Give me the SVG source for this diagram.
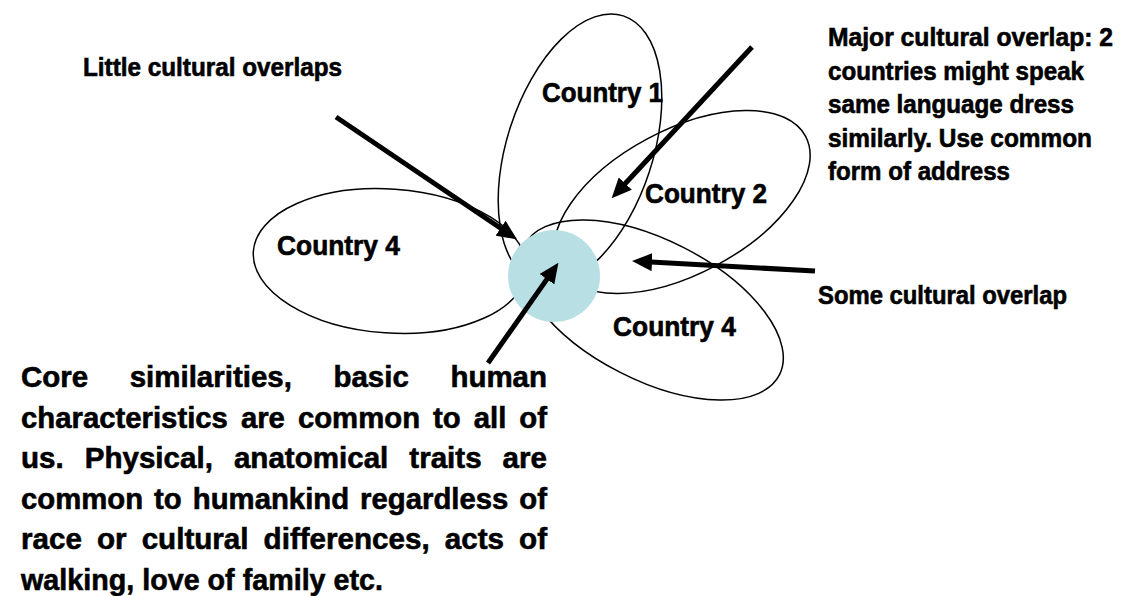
<svg xmlns="http://www.w3.org/2000/svg" width="1122" height="596" viewBox="0 0 1122 596">
  <style>
    .ell { fill: none; stroke: #000; stroke-width: 1.5; }
    .core { fill: #B8DFE3; stroke: none; }
    .lbl { font-family: "Liberation Sans", Arial, sans-serif; font-weight: bold; fill: #000; stroke: #000; stroke-width: 0.6; }
    .country { font-size: 27px; }
    .note { font-size: 25px; }
    .para { font-size: 30px; }
    .arr { stroke: #000; stroke-width: 5; fill: none; }
  </style>
  <defs>
    <marker id="ah" viewBox="0 0 20 18" refX="1" refY="9" markerWidth="20" markerHeight="18" markerUnits="userSpaceOnUse" orient="auto">
      <path d="M0,0 L20,9 L0,18 Z" fill="#000"/>
    </marker>
  </defs>
  <rect width="1122" height="596" fill="#fff"/>

  <g id="country4-left">
    <ellipse class="ell" cx="390" cy="261" rx="137" ry="72" transform="rotate(4 390 261)"/>
    <text class="lbl country" x="277" y="255" textLength="123" lengthAdjust="spacingAndGlyphs">Country 4</text>
  </g>
  <g id="country1">
    <ellipse class="ell" cx="580" cy="149" rx="73" ry="140" transform="rotate(18 580 149)"/>
    <text class="lbl country" x="542" y="102" textLength="121" lengthAdjust="spacingAndGlyphs">Country 1</text>
  </g>
  <g id="country2">
    <ellipse class="ell" cx="682" cy="202" rx="140" ry="72" transform="rotate(-28 682 202)"/>
    <text class="lbl country" x="645" y="203" textLength="122" lengthAdjust="spacingAndGlyphs">Country 2</text>
  </g>
  <g id="country4-right">
    <ellipse class="ell" cx="652" cy="310" rx="143" ry="70" transform="rotate(27 652 310)"/>
    <text class="lbl country" x="613" y="336" textLength="123" lengthAdjust="spacingAndGlyphs">Country 4</text>
  </g>
  <g id="core">
    <circle class="core" cx="554" cy="276" r="46"/>
  </g>

  <g id="connectors">
    <line class="arr" x1="336" y1="117" x2="501.4" y2="228.8" marker-end="url(#ah)"/>
    <line class="arr" x1="752" y1="47" x2="624.6" y2="184.3" marker-end="url(#ah)"/>
    <line class="arr" x1="815" y1="271" x2="651" y2="262.1" marker-end="url(#ah)"/>
    <line class="arr" x1="488" y1="363" x2="547.5" y2="278.4" marker-end="url(#ah)"/>
  </g>

  <g id="label-little">
    <text class="lbl note" x="83" y="76" textLength="259" lengthAdjust="spacingAndGlyphs">Little cultural overlaps</text>
  </g>
  <g id="label-major">
    <text class="lbl note" x="828" y="46" textLength="285" lengthAdjust="spacingAndGlyphs">Major cultural overlap: 2</text>
    <text class="lbl note" x="828" y="80" textLength="256" lengthAdjust="spacingAndGlyphs">countries might speak</text>
    <text class="lbl note" x="828" y="113" textLength="246" lengthAdjust="spacingAndGlyphs">same language dress</text>
    <text class="lbl note" x="828" y="147" textLength="264" lengthAdjust="spacingAndGlyphs">similarly. Use common</text>
    <text class="lbl note" x="828" y="180" textLength="182" lengthAdjust="spacingAndGlyphs">form of address</text>
  </g>
  <g id="label-some">
    <text class="lbl note" x="818" y="304" textLength="249" lengthAdjust="spacingAndGlyphs">Some cultural overlap</text>
  </g>
  <g id="label-core">
    <text class="lbl para" x="21" y="387" word-spacing="34" textLength="526" lengthAdjust="spacingAndGlyphs">Core similarities, basic human</text>
    <text class="lbl para" x="21" y="427.5" word-spacing="5" textLength="526" lengthAdjust="spacingAndGlyphs">characteristics are common to all of</text>
    <text class="lbl para" x="21" y="468" word-spacing="13" textLength="526" lengthAdjust="spacingAndGlyphs">us. Physical, anatomical traits are</text>
    <text class="lbl para" x="21" y="508.5" word-spacing="3" textLength="526" lengthAdjust="spacingAndGlyphs">common to humankind regardless of</text>
    <text class="lbl para" x="21" y="549" word-spacing="7" textLength="526" lengthAdjust="spacingAndGlyphs">race or cultural differences, acts of</text>
    <text class="lbl para" x="21" y="589.5" textLength="362" lengthAdjust="spacingAndGlyphs">walking, love of family etc.</text>
  </g>
</svg>
